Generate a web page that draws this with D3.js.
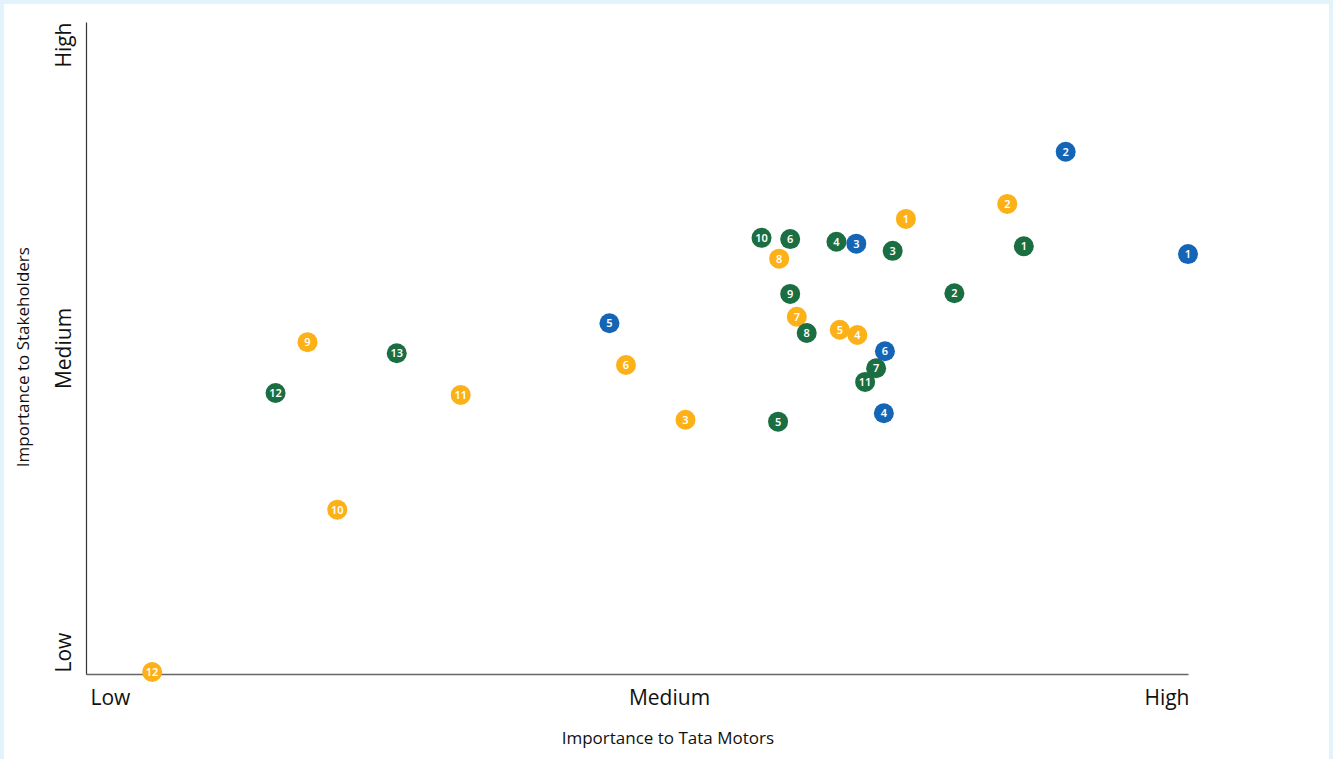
<!DOCTYPE html>
<html>
<head>
<meta charset="utf-8">
<script src="https://cdn.jsdelivr.net/npm/d3@7"></script>
<style>
  html, body { margin: 0; padding: 0; background: #e2f3fb; }
  #panel { position: absolute; left: 4px; top: 4px; width: 1325px; height: 755px; background: #fff; }
  svg { position: absolute; left: 0; top: 0; }
</style>
</head>
<body>
<div id="panel"></div>
<svg id="chart"></svg>
<script>
// values on a 0..100 scale (Low..High)
var blueIds = [1, 2, 3, 4, 5, 6];
var blueX = [100, 88.9, 69.9, 72.4, 47.5, 72.5];
var blueY = [64.4, 80.1, 66.0, 40.0, 53.8, 49.5];

var greenIds = [1, 2, 3, 4, 5, 6, 7, 8, 9, 10, 11, 12, 13];
var greenX = [85.1, 78.8, 73.2, 68.1, 62.8, 63.9, 71.7, 65.4, 63.9, 61.3, 70.7, 17.2, 28.2];
var greenY = [65.6, 58.4, 64.9, 66.3, 38.7, 66.7, 46.9, 52.3, 58.3, 66.9, 44.8, 43.1, 49.2];

var yellowIds = [1, 2, 3, 4, 5, 6, 7, 8, 9, 10, 11, 12];
var yellowX = [74.4, 83.6, 54.4, 70.0, 68.4, 49.0, 64.5, 62.9, 20.1, 22.8, 34.0, 6.0];
var yellowY = [69.8, 72.1, 39.0, 52.0, 52.8, 47.4, 54.8, 63.7, 50.9, 25.2, 42.8, 0.3];

var tickValues = [0, 50, 100];
var tickLabels = ["Low", "Medium", "High"];

var svgWidth = 1333, svgHeight = 759;
var margin = { top: 22, right: 145, bottom: 85, left: 86 };
var width = svgWidth - margin.left - margin.right;
var height = svgHeight - margin.top - margin.bottom;
var font = "'Open Sans', sans-serif";

var svg = d3.select("#chart")
    .attr("width", svgWidth)
    .attr("height", svgHeight);

var g = svg.append("g")
    .attr("transform", "translate(" + margin.left + "," + margin.top + ")");

var x = d3.scaleLinear().domain([0, 100]).range([0, width]);
var y = d3.scaleLinear().domain([0, 100]).range([height, 0]);

// x axis
var xAxis = g.append("g")
    .attr("transform", "translate(0," + height + ")")
    .call(d3.axisBottom(x).tickValues(tickValues).tickSize(0)
        .tickFormat(function(d, i) { return tickLabels[i]; }));
xAxis.select(".domain").attr("stroke", "#666").attr("stroke-width", 1.5);
xAxis.selectAll("text")
    .attr("font-family", font)
    .attr("font-size", 21)
    .attr("fill", "#111")
    .attr("y", 31)
    .attr("dy", 0)
    .attr("text-anchor", function(d, i) { return i == 0 ? "start" : (i == 2 ? "end" : "middle"); })
    .attr("dx", function(d, i) { return i == 0 ? 4 : (i == 1 ? 32 : 1); });

// y axis
var yAxis = g.append("g")
    .call(d3.axisLeft(y).tickValues(tickValues).tickSize(0)
        .tickFormat(function(d, i) { return tickLabels[i]; }));
yAxis.select(".domain").attr("stroke", "#333").attr("stroke-width", 1.2);
yAxis.selectAll("text")
    .attr("font-family", font)
    .attr("font-size", 21)
    .attr("fill", "#111")
    .attr("x", 0)
    .attr("dy", 0)
    .attr("transform", "translate(-15,0) rotate(-90)")
    .attr("text-anchor", function(d, i) { return i == 0 ? "start" : (i == 2 ? "end" : "middle"); })
    .attr("dx", function(d, i) { return i == 0 ? 2 : 0; });

// axis titles
svg.append("text")
    .attr("x", margin.left + x(52.8))
    .attr("y", 744)
    .attr("text-anchor", "middle")
    .attr("font-family", font)
    .attr("font-size", 17)
    .attr("fill", "#111")
    .text("Importance to Tata Motors");

svg.append("text")
    .attr("transform", "translate(29," + (margin.top + y(48.6)) + ") rotate(-90)")
    .attr("text-anchor", "middle")
    .attr("font-family", font)
    .attr("font-size", 17)
    .attr("fill", "#111")
    .text("Importance to Stakeholders");

function drawSeries(ids, xs, ys, color) {
    var pts = ids.map(function(id, i) { return { id: id, x: xs[i], y: ys[i] }; });
    var node = g.append("g").selectAll("g")
        .data(pts)
        .enter().append("g")
        .attr("transform", function(d) { return "translate(" + x(d.x) + "," + y(d.y) + ")"; });
    node.append("circle")
        .attr("r", 10)
        .attr("fill", color);
    node.append("text")
        .attr("text-anchor", "middle")
        .attr("dy", "0.36em")
        .attr("font-family", "'Noto Sans', sans-serif")
        .attr("font-size", 11)
        .attr("font-weight", 600)
        .attr("fill", "#fff")
        .text(function(d) { return d.id; });
}

drawSeries(yellowIds, yellowX, yellowY, "#fbb117");
drawSeries(greenIds, greenX, greenY, "#1b6e41");
drawSeries(blueIds, blueX, blueY, "#1565b7");
</script>
</body>
</html>
